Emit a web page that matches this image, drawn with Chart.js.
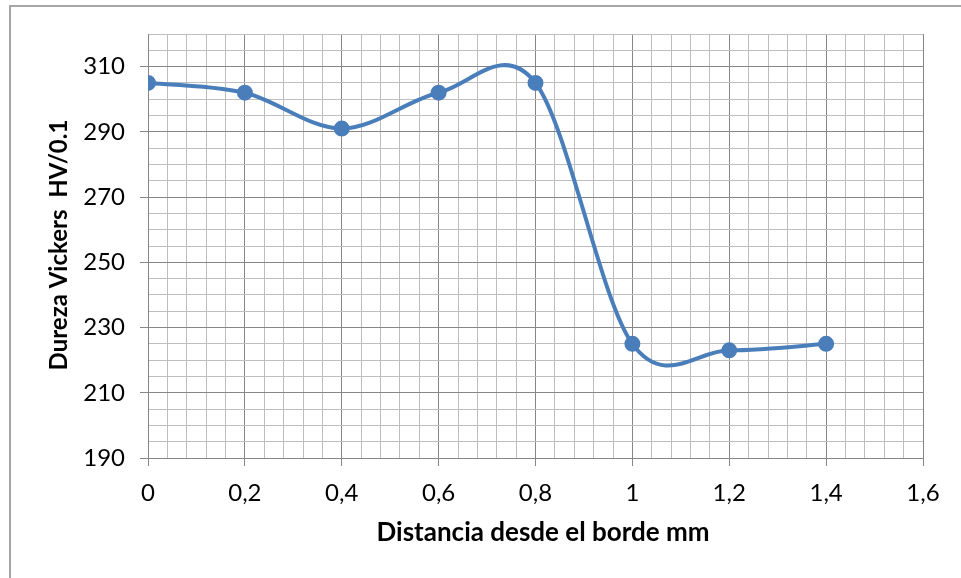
<!DOCTYPE html>
<html>
<head>
<meta charset="utf-8">
<script src="https://cdn.jsdelivr.net/npm/chart.js@4/dist/chart.umd.min.js"></script>
<style>
  html, body { margin: 0; padding: 0; background: #fff; overflow: hidden; }
  #frame {
    position: absolute; left: 9px; top: 5px; width: 1100px; height: 700px;
    border: 2px solid #a6a6a6;
  }
  #chart { position: absolute; left: 0; top: 0; }
</style>
</head>
<body>
<div id="frame"></div>
<canvas id="chart" width="961" height="578"></canvas>
<script>
// distance from edge (mm) and Vickers hardness
const distances = [0, 0.2, 0.4, 0.6, 0.8, 1.0, 1.2, 1.4];
const hardness = [305, 302, 291, 302, 305, 225, 223, 225];

const xTitle = "Distancia desde el borde mm";
const yTitle = "Dureza Vickers  HV/0.1";

const font = "Lato";
const majorColor = "#868686";
const minorColor = "#bebebe";

// draw axis titles ourselves so they sit where the original has them
const axisTitles = {
  id: "axisTitles",
  afterDraw(chart) {
    const ctx = chart.ctx;
    ctx.save();
    ctx.fillStyle = "#000";
    ctx.textAlign = "center";
    ctx.textBaseline = "middle";
    ctx.font = `bold 26px ${font}`;
    ctx.fillText(xTitle, 543, 533);
    ctx.font = `bold 24px ${font}`;
    ctx.translate(59, 245);
    ctx.rotate(-Math.PI / 2);
    ctx.fillText(yTitle, 0, 0);
    ctx.restore();
  }
};

// spreadsheet-style smoothing (Catmull-Rom) instead of chart.js' distance-weighted one
const smoothLine = {
  id: "smoothLine",
  beforeDatasetsDraw(chart) {
    const meta = chart.getDatasetMeta(0);
    const line = meta.dataset;
    line.updateControlPoints(chart.chartArea, "x");
    const pts = meta.data;
    pts.forEach((p, i) => {
      const prev = pts[i - 1] || p;
      const next = pts[i + 1] || p;
      const dx = (next.x - prev.x) / 6;
      const dy = (next.y - prev.y) / 6;
      p.cp1x = p.x - dx;
      p.cp1y = p.y - dy;
      p.cp2x = p.x + dx;
      p.cp2y = p.y + dy;
    });
    delete line._path;
  }
};

const isMajorY = (v) => (v - 190) % 20 === 0;
const isMajorX = (v) => Math.round(v * 100) % 20 === 0;

new Chart(document.getElementById("chart"), {
  type: "line",
  data: {
    datasets: [
      {
        data: distances.map((d, i) => ({ x: d, y: hardness[i] })),
        tension: 0.4,
        borderColor: "#4a7ebb",
        backgroundColor: "#4a7ebb",
        borderWidth: 4,
        pointRadius: 6,
        pointHoverRadius: 6,
      },
    ],
  },
  options: {
    responsive: false,
    animation: false,
    devicePixelRatio: 1,
    layout: { padding: { top: 34, right: 38, left: 0, bottom: 0 } },
    plugins: { legend: { display: false }, tooltip: { enabled: false } },
    scales: {
      x: {
        type: "linear",
        min: 0,
        max: 1.6,
        afterFit(scale) { scale.height = 120; },
        grid: {
          color: (c) => (c.tick && isMajorX(c.tick.value) ? majorColor : minorColor),
          tickColor: (c) => (c.tick && isMajorX(c.tick.value) ? majorColor : "rgba(0,0,0,0)"),
          tickLength: 8,
          lineWidth: 1,
        },
        border: { color: majorColor, width: 1 },
        ticks: {
          stepSize: 0.04,
          autoSkip: false,
          maxRotation: 0,
          padding: 13,
          color: "#000",
          font: { family: font, size: 24 },
          callback: (v) => (isMajorX(v) ? String(Math.round(v * 10) / 10).replace(".", ",") : ""),
        },
      },
      y: {
        min: 190,
        max: 320,
        afterFit(scale) { scale.width = 148; },
        grid: {
          color: (c) => (c.tick && isMajorY(c.tick.value) ? majorColor : minorColor),
          tickColor: (c) => (c.tick && isMajorY(c.tick.value) && c.tick.value < 320 ? majorColor : "rgba(0,0,0,0)"),
          tickLength: 8,
          lineWidth: 1,
        },
        border: { color: majorColor, width: 1 },
        ticks: {
          stepSize: 5,
          autoSkip: false,
          padding: 15,
          color: "#000",
          font: { family: font, size: 24 },
          callback: (v) => (isMajorY(v) && v < 320 ? String(v) : ""),
        },
      },
    },
  },
  plugins: [smoothLine, axisTitles],
});
</script>
</body>
</html>
